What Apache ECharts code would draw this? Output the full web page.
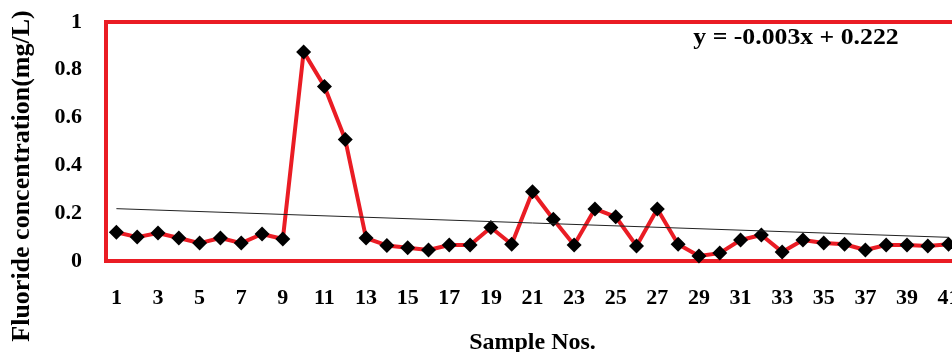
<!DOCTYPE html>
<html>
<head>
<meta charset="utf-8">
<script src="https://cdn.jsdelivr.net/npm/echarts@6/dist/echarts.min.js"></script>
<style>
html,body{margin:0;padding:0;background:#fff;}
#chart{width:952px;height:352px;}
</style>
</head>
<body>
<div id="chart"></div>
<script>
// sample numbers 1..41
var sampleNos = ['1','2','3','4','5','6','7','8','9','10','11','12','13','14','15','16','17','18','19','20',
    '21','22','23','24','25','26','27','28','29','30','31','32','33','34','35','36','37','38','39','40','41'];
// fluoride concentration (mg/L)
var fluoride = [0.12, 0.10, 0.117, 0.096, 0.075, 0.096, 0.075, 0.113, 0.092, 0.875,
    0.73, 0.508, 0.096, 0.065, 0.055, 0.046, 0.067, 0.067, 0.14, 0.07,
    0.29, 0.175, 0.067, 0.218, 0.185, 0.063, 0.218, 0.07, 0.021, 0.033,
    0.088, 0.109, 0.038, 0.088, 0.075, 0.07, 0.046, 0.067, 0.067, 0.063, 0.07];
// linear trend line ends (y = -0.003x + 0.222)
var trendEnds = [0.219, 0.099];
var yTicks = [0, 0.2, 0.4, 0.6, 0.8, 1];

var trendData = sampleNos.map(function (s, i) {
    if (i == 0) return trendEnds[0];
    if (i == sampleNos.length - 1) return trendEnds[1];
    return null;
});

var serif = '"Liberation Serif", "DejaVu Serif", serif';
var myChart = echarts.init(document.getElementById('chart'));
var option = {
    backgroundColor: '#fff',
    animation: false,
    grid: {
        left: 106, right: -7, top: 22, bottom: 91,
        outerBoundsMode: 'none',
        containLabel: false,
        show: true,
        borderColor: '#ea1c24',
        borderWidth: 4,
        backgroundColor: 'transparent'
    },
    xAxis: {
        type: 'category',
        data: sampleNos,
        boundaryGap: true,
        name: 'Sample Nos.',
        nameLocation: 'middle',
        nameGap: 70,
        nameTextStyle: { fontFamily: serif, fontWeight: 'bold', fontSize: 24, color: '#000' },
        axisLine: { lineStyle: { color: '#ea1c24', width: 4 } },
        axisTick: { show: false },
        axisLabel: {
            interval: 1,
            margin: 26,
            fontFamily: serif, fontWeight: 'bold', fontSize: 22, color: '#000'
        },
        splitLine: { show: false }
    },
    yAxis: {
        type: 'value',
        min: 0, max: 1, interval: 0.2,
        axisLine: { show: false },
        axisTick: { show: false },
        splitLine: { show: false },
        axisLabel: {
            margin: 24,
            fontFamily: serif, fontWeight: 'bold', fontSize: 22, color: '#000',
            formatter: function (v) {
                for (var i = 0; i < yTicks.length; i++) {
                    if (Math.abs(yTicks[i] - v) < 1e-6) return String(yTicks[i]);
                }
                return '';
            }
        }
    },
    graphic: [
        {
            type: 'text',
            x: 22, y: 176,
            rotation: Math.PI / 2,
            style: {
                text: 'Fluoride concentration(mg/L)',
                fontFamily: serif, fontWeight: 'bold', fontSize: 26,
                fill: '#000', align: 'center', verticalAlign: 'middle'
            }
        },
        {
            type: 'text',
            x: 796, y: 38,
            scaleX: 1.12,
            style: {
                text: 'y = -0.003x + 0.222',
                fontFamily: serif, fontWeight: 'bold', fontSize: 23,
                fill: '#000', align: 'center', verticalAlign: 'middle'
            }
        }
    ],
    series: [
        {
            name: 'Fluoride',
            type: 'line',
            data: fluoride,
            symbol: 'diamond',
            symbolSize: [15, 15],
            showAllSymbol: true,
            itemStyle: { color: '#000' },
            lineStyle: { color: '#ea1c24', width: 4 },
            z: 3
        },
        {
            name: 'Trend',
            type: 'line',
            data: trendData,
            connectNulls: true,
            symbol: 'none',
            lineStyle: { color: '#222', width: 1 },
            z: 4
        }
    ]
};
myChart.setOption(option);
window.addEventListener('resize', function () {
    myChart.resize();
});
</script>
</body>
</html>
